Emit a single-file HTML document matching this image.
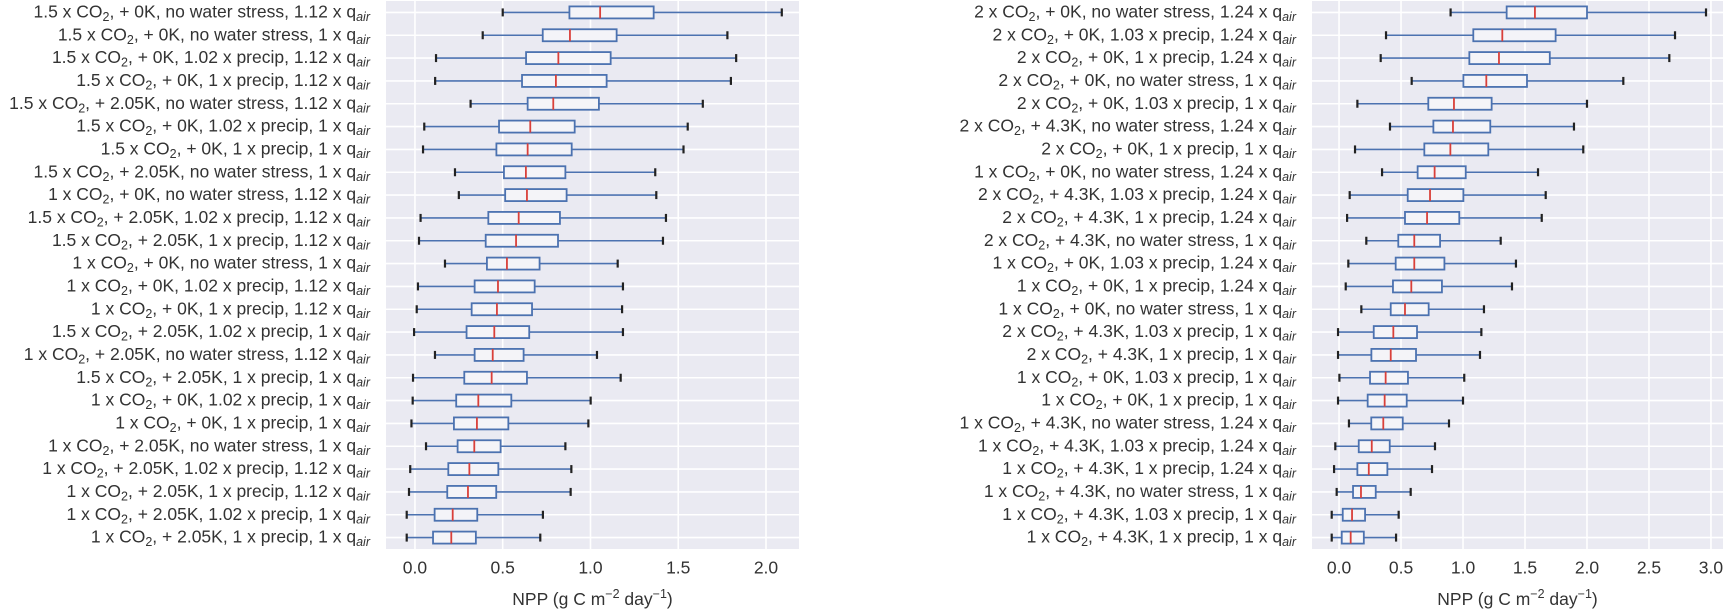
<!DOCTYPE html>
<html><head><meta charset="utf-8"><style>
html,body{margin:0;padding:0;background:#fff;}
svg{display:block;font-family:"Liberation Sans",sans-serif;}
</style></head><body>
<svg id="chart" width="1725" height="611" viewBox="0 0 1725 611"></svg>
<script>
const leftLabels = [
"1.5 x CO2, + 0K, no water stress, 1.12 x qair","1.5 x CO2, + 0K, no water stress, 1 x qair",
"1.5 x CO2, + 0K, 1.02 x precip, 1.12 x qair","1.5 x CO2, + 0K, 1 x precip, 1.12 x qair",
"1.5 x CO2, + 2.05K, no water stress, 1.12 x qair","1.5 x CO2, + 0K, 1.02 x precip, 1 x qair",
"1.5 x CO2, + 0K, 1 x precip, 1 x qair","1.5 x CO2, + 2.05K, no water stress, 1 x qair",
"1 x CO2, + 0K, no water stress, 1.12 x qair","1.5 x CO2, + 2.05K, 1.02 x precip, 1.12 x qair",
"1.5 x CO2, + 2.05K, 1 x precip, 1.12 x qair","1 x CO2, + 0K, no water stress, 1 x qair",
"1 x CO2, + 0K, 1.02 x precip, 1.12 x qair","1 x CO2, + 0K, 1 x precip, 1.12 x qair",
"1.5 x CO2, + 2.05K, 1.02 x precip, 1 x qair","1 x CO2, + 2.05K, no water stress, 1.12 x qair",
"1.5 x CO2, + 2.05K, 1 x precip, 1 x qair","1 x CO2, + 0K, 1.02 x precip, 1 x qair",
"1 x CO2, + 0K, 1 x precip, 1 x qair","1 x CO2, + 2.05K, no water stress, 1 x qair",
"1 x CO2, + 2.05K, 1.02 x precip, 1.12 x qair","1 x CO2, + 2.05K, 1 x precip, 1.12 x qair",
"1 x CO2, + 2.05K, 1.02 x precip, 1 x qair","1 x CO2, + 2.05K, 1 x precip, 1 x qair"];
const leftLow  = [0.50,0.386,0.12,0.115,0.317,0.053,0.046,0.228,0.25,0.032,0.023,0.171,0.017,0.01,-0.005,0.114,-0.011,-0.013,-0.02,0.063,-0.027,-0.034,-0.047,-0.047];
const leftQ1   = [0.88,0.728,0.633,0.61,0.642,0.479,0.464,0.507,0.514,0.418,0.403,0.41,0.34,0.323,0.294,0.34,0.281,0.235,0.222,0.243,0.19,0.184,0.112,0.103];
const leftMed  = [1.055,0.883,0.817,0.803,0.788,0.657,0.642,0.632,0.638,0.591,0.576,0.524,0.473,0.467,0.452,0.443,0.437,0.361,0.353,0.338,0.31,0.302,0.215,0.207];
const leftQ3   = [1.36,1.149,1.115,1.092,1.048,0.91,0.893,0.857,0.864,0.826,0.815,0.71,0.682,0.667,0.651,0.619,0.638,0.549,0.532,0.488,0.475,0.463,0.355,0.347];
const leftHigh = [2.09,1.78,1.83,1.80,1.64,1.554,1.53,1.369,1.375,1.43,1.413,1.155,1.185,1.18,1.185,1.037,1.172,1.001,0.988,0.857,0.891,0.887,0.729,0.714];
const leftTicks = ["0.0","0.5","1.0","1.5","2.0"];

const rightLabels = [
"2 x CO2, + 0K, no water stress, 1.24 x qair","2 x CO2, + 0K, 1.03 x precip, 1.24 x qair",
"2 x CO2, + 0K, 1 x precip, 1.24 x qair","2 x CO2, + 0K, no water stress, 1 x qair",
"2 x CO2, + 0K, 1.03 x precip, 1 x qair","2 x CO2, + 4.3K, no water stress, 1.24 x qair",
"2 x CO2, + 0K, 1 x precip, 1 x qair","1 x CO2, + 0K, no water stress, 1.24 x qair",
"2 x CO2, + 4.3K, 1.03 x precip, 1.24 x qair","2 x CO2, + 4.3K, 1 x precip, 1.24 x qair",
"2 x CO2, + 4.3K, no water stress, 1 x qair","1 x CO2, + 0K, 1.03 x precip, 1.24 x qair",
"1 x CO2, + 0K, 1 x precip, 1.24 x qair","1 x CO2, + 0K, no water stress, 1 x qair",
"2 x CO2, + 4.3K, 1.03 x precip, 1 x qair","2 x CO2, + 4.3K, 1 x precip, 1 x qair",
"1 x CO2, + 0K, 1.03 x precip, 1 x qair","1 x CO2, + 0K, 1 x precip, 1 x qair",
"1 x CO2, + 4.3K, no water stress, 1.24 x qair","1 x CO2, + 4.3K, 1.03 x precip, 1.24 x qair",
"1 x CO2, + 4.3K, 1 x precip, 1.24 x qair","1 x CO2, + 4.3K, no water stress, 1 x qair",
"1 x CO2, + 4.3K, 1.03 x precip, 1 x qair","1 x CO2, + 4.3K, 1 x precip, 1 x qair"];
const rightLow  = [0.90,0.379,0.336,0.586,0.148,0.411,0.129,0.347,0.086,0.065,0.22,0.075,0.054,0.18,-0.008,-0.008,0.003,-0.008,0.08,-0.03,-0.04,-0.019,-0.059,-0.059];
const rightQ1   = [1.352,1.083,1.051,1.003,0.72,0.761,0.688,0.634,0.554,0.532,0.478,0.457,0.435,0.417,0.28,0.261,0.25,0.231,0.26,0.159,0.148,0.113,0.03,0.022];
const rightMed  = [1.58,1.317,1.29,1.188,0.927,0.919,0.898,0.771,0.734,0.71,0.607,0.607,0.583,0.532,0.438,0.417,0.376,0.368,0.357,0.264,0.24,0.177,0.105,0.094];
const rightQ3   = [2.0,1.747,1.70,1.516,1.231,1.22,1.204,1.022,1.003,0.97,0.815,0.85,0.83,0.723,0.629,0.621,0.556,0.546,0.514,0.409,0.39,0.296,0.21,0.2];
const rightHigh = [2.96,2.71,2.664,2.293,2.0,1.895,1.97,1.605,1.667,1.635,1.304,1.427,1.395,1.169,1.148,1.137,1.01,1.0,0.887,0.774,0.75,0.578,0.481,0.46];
const rightTicks = ["0.0","0.5","1.0","1.5","2.0","2.5","3.0"];

const NS = "http://www.w3.org/2000/svg";
const svg = document.getElementById('chart');
const FS = 17.5, SFS = 12.5;
function mk(tag, attrs, parent){const e=document.createElementNS(NS,tag);for(const k in attrs)e.setAttribute(k,attrs[k]);(parent||svg).appendChild(e);return e;}

function drawPanel(p){
  const g = mk('g',{});
  
  
  const xs = v => p.x0 + (v - p.xmin)/(p.xmax - p.xmin)*(p.x1 - p.x0);
  const n = p.labels.length;
  const rowH = (p.y1 - p.y0)/n;
  const ys = i => p.y0 + (i + 0.5)*rowH;
  const bg = mk('rect',{x:p.x0,y:p.y0,width:p.x1-p.x0,height:p.y1-p.y0,fill:'#eaeaf2'},g);
  
  
  p.ticks.forEach(t=>{
    const v=parseFloat(t), x=xs(v);
    const gl=mk('line',{x1:x,x2:x,y1:p.y0,y2:p.y1,stroke:'#fff','stroke-width':1.6},g);
    
    
    const tl=mk('text',{x:x,y:p.y1+24.5,'text-anchor':'middle','font-size':FS,fill:'#333'},g);
    tl.textContent=t;
    
    
  });
  for(let i=0;i<n;i++){
    const y=ys(i);
    const hl=mk('line',{x1:p.x0,x2:p.x1,y1:y,y2:y,stroke:'#fff','stroke-width':1.6},g);
    
    
  }
  for(let i=0;i<n;i++){
    const y=ys(i);
    const bx=mk('g',{},g);
    
    
    const lo=xs(p.low[i]),q1=xs(p.q1[i]),md=xs(p.med[i]),q3=xs(p.q3[i]),hi=xs(p.high[i]);
    mk('line',{x1:lo,x2:q1,y1:y,y2:y,stroke:'#4c72b0','stroke-width':1.6},bx);
    mk('line',{x1:q3,x2:hi,y1:y,y2:y,stroke:'#4c72b0','stroke-width':1.6},bx);
    mk('line',{x1:lo,x2:lo,y1:y-4,y2:y+4,stroke:'#222','stroke-width':2.2},bx);
    mk('line',{x1:hi,x2:hi,y1:y-4,y2:y+4,stroke:'#222','stroke-width':2.2},bx);
    mk('rect',{x:q1,y:y-6,width:q3-q1,height:12,fill:'#f4f4f8',stroke:'#4c72b0','stroke-width':1.8},bx);
    mk('line',{x1:md,x2:md,y1:y-6,y2:y+6,stroke:'#d9403a','stroke-width':1.8},bx);
    const lab=mk('text',{x:p.x0-16,y:y+5,'text-anchor':'end','font-size':FS,fill:'#333'},g);
    
    
    const s=p.labels[i];
    const a=s.indexOf('CO2'); const b=s.lastIndexOf('qair');
    lab.appendChild(document.createTextNode(s.slice(0,a+2)));
    const sub=mk('tspan',{'font-size':SFS,dy:3.5},lab); sub.textContent='2';
    const mid=mk('tspan',{dy:-3.5},lab); mid.textContent=s.slice(a+3,b+1);
    const sub2=mk('tspan',{'font-size':SFS,dy:3.5,'font-style':'italic'},lab); sub2.textContent='air';
  }
  const tt=mk('text',{x:(p.x0+p.x1)/2,y:p.y1+56,'text-anchor':'middle','font-size':FS,fill:'#333'},g);
  
  
  tt.appendChild(document.createTextNode('NPP (g C m'));
  const s1=mk('tspan',{'font-size':SFS,dy:-7},tt); s1.textContent='\u22122';
  const s2=mk('tspan',{dy:7},tt); s2.textContent=' day';
  const s3=mk('tspan',{'font-size':SFS,dy:-7},tt); s3.textContent='\u22121';
  const s4=mk('tspan',{dy:7},tt); s4.textContent=')';
}
drawPanel({name:'left-panel',x0:386,x1:799,y0:1,y1:549,xmin:-0.165,xmax:2.188,
  labels:leftLabels,low:leftLow,q1:leftQ1,med:leftMed,q3:leftQ3,high:leftHigh,ticks:leftTicks});
drawPanel({name:'right-panel',x0:1312,x1:1723,y0:1,y1:549,xmin:-0.218,xmax:3.097,
  labels:rightLabels,low:rightLow,q1:rightQ1,med:rightMed,q3:rightQ3,high:rightHigh,ticks:rightTicks});
</script>
</body></html>
